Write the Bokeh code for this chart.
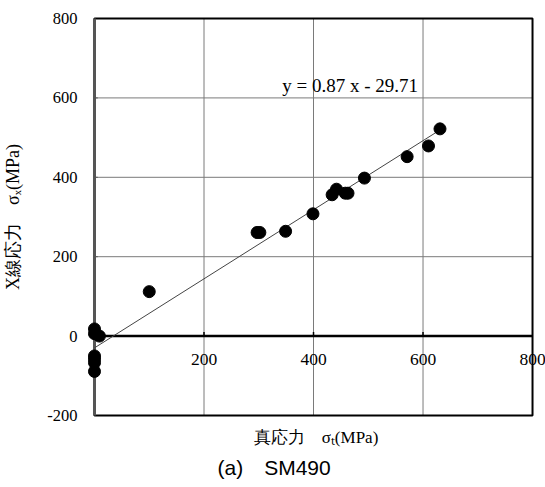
from bokeh.plotting import figure
from bokeh.models import FixedTicker, Title, Range1d, ColumnDataSource, LabelSet, Label
from bokeh.embed import file_html
from bokeh.resources import INLINE

# True stress (MPa) against X-ray measured stress (MPa), SM490 specimens
true_stress = [0, 0, 9, 0, 0, 0, 0, 100, 297, 302, 349, 399, 434, 442, 458, 463, 493, 571, 610, 631]
xray_stress = [18, 6, 0, -50, -58, -67, -89, 112, 261, 261, 264, 308, 356, 370, 360, 360, 398, 452, 479, 522]

# Least-squares fit
slope = 0.87
intercept = -29.71

# axis limits and ticks
x_min, x_max = 0, 800
y_min, y_max = -200, 800
x_ticks = [200, 400, 600, 800]
y_ticks = [-200, 0, 200, 400, 600, 800]

SERIF = "Liberation Serif"

# The frame is padded a little beyond the plotted box so that markers sitting
# on the box edge and the last tick label are not cut off.
p = figure(width=545, height=487,
           x_range=Range1d(-14.6, 823.7), y_range=Range1d(-207.6, 807.6),
           output_backend="svg", toolbar_location=None,
           min_border_left=86, min_border_right=0,
           min_border_top=15, min_border_bottom=69)
p.background_fill_color = "white"
p.border_fill_color = "white"
p.outline_line_color = None
p.grid.visible = False

# y axis: labels only, the box edge is drawn below
ya = p.yaxis[0]
ya.ticker = FixedTicker(ticks=y_ticks)
ya.major_label_overrides = {t: str(t) for t in y_ticks}
ya.axis_line_color = None
ya.major_tick_out = 0
ya.major_tick_in = 0
ya.minor_tick_out = 0
ya.minor_tick_in = 0
ya.major_label_standoff = 9
ya.major_label_text_font = SERIF
ya.major_label_text_font_size = "16.5px"
ya.major_label_text_color = "black"
ya.axis_label = "X線応力　σₓ(MPa)"
ya.axis_label_text_font = SERIF
ya.axis_label_text_font_size = "18px"
ya.axis_label_text_font_style = "normal"
ya.axis_label_text_color = "black"
ya.axis_label_standoff = 21

# x axis: only carries the title; its ticks are drawn along y = 0
xa = p.xaxis[0]
xa.ticker = FixedTicker(ticks=[])
xa.axis_line_color = None
xa.major_tick_out = 0
xa.major_tick_in = 0
xa.minor_tick_out = 0
xa.minor_tick_in = 0
xa.major_label_standoff = 0
xa.axis_label = "真応力　σₜ(MPa)"
xa.axis_label_text_font = SERIF
xa.axis_label_text_font_size = "17px"
xa.axis_label_text_font_style = "normal"
xa.axis_label_text_color = "black"
xa.axis_label_standoff = 9

# grid lines inside the box
gx = [t for t in x_ticks if x_min < t < x_max]
gy = [t for t in y_ticks if y_min < t < y_max and t != 0]
p.segment(x0=gx, y0=[y_min] * len(gx), x1=gx, y1=[y_max] * len(gx),
          line_color="#7a7a7a", line_width=1)
p.segment(x0=[x_min] * len(gy), y0=gy, x1=[x_max] * len(gy), y1=gy,
          line_color="#7a7a7a", line_width=1)

# plot box
p.quad(left=[x_min], right=[x_max], bottom=[y_min], top=[y_max],
       fill_color=None, line_color="black", line_width=2)
p.segment(x0=[x_min], y0=[y_min], x1=[x_min], y1=[y_max],
          line_color="#555", line_width=3)
# small inward ticks on the left edge
p.segment(x0=[x_min] * len(gy), y0=gy, x1=[x_min + 6] * len(gy), y1=gy,
          line_color="#555", line_width=1)

# zero line acting as the x axis, with upward ticks and labels below
p.segment(x0=[x_min], y0=[0], x1=[x_max], y1=[0], line_color="black", line_width=2.5)
p.segment(x0=gx, y0=[0] * len(gx), x1=gx, y1=[10] * len(gx),
          line_color="black", line_width=1.5)
tick_src = ColumnDataSource(dict(x=x_ticks, y=[0] * len(x_ticks),
                                 t=[str(v) for v in x_ticks]))
p.add_layout(LabelSet(x="x", y="y", text="t", source=tick_src,
                      text_align="center", text_baseline="middle",
                      y_offset=-23, text_font=SERIF,
                      text_font_size="17.5px", text_color="black"))

# regression line
x_end = max(true_stress)
p.line(x=[0, x_end], y=[intercept, slope * x_end + intercept],
       line_color="#444", line_width=1)

# measurements
p.scatter(true_stress, xray_stress, size=12, fill_color="black", line_color="black")

# fit equation
sign = "-" if intercept < 0 else "+"
p.add_layout(Label(x=467, y=631, text=f"y = {slope} x {sign} {abs(intercept)}",
                   text_align="center", text_baseline="middle",
                   text_font=SERIF, text_font_size="19px", text_color="black"))

# caption
p.add_layout(Title(text="(a)　SM490", align="left", offset=131,
                   text_font="Liberation Sans", text_font_size="21px",
                   text_font_style="normal", text_color="black", standoff=8), "below")

open("out.html", "w").write(file_html(p, INLINE))
